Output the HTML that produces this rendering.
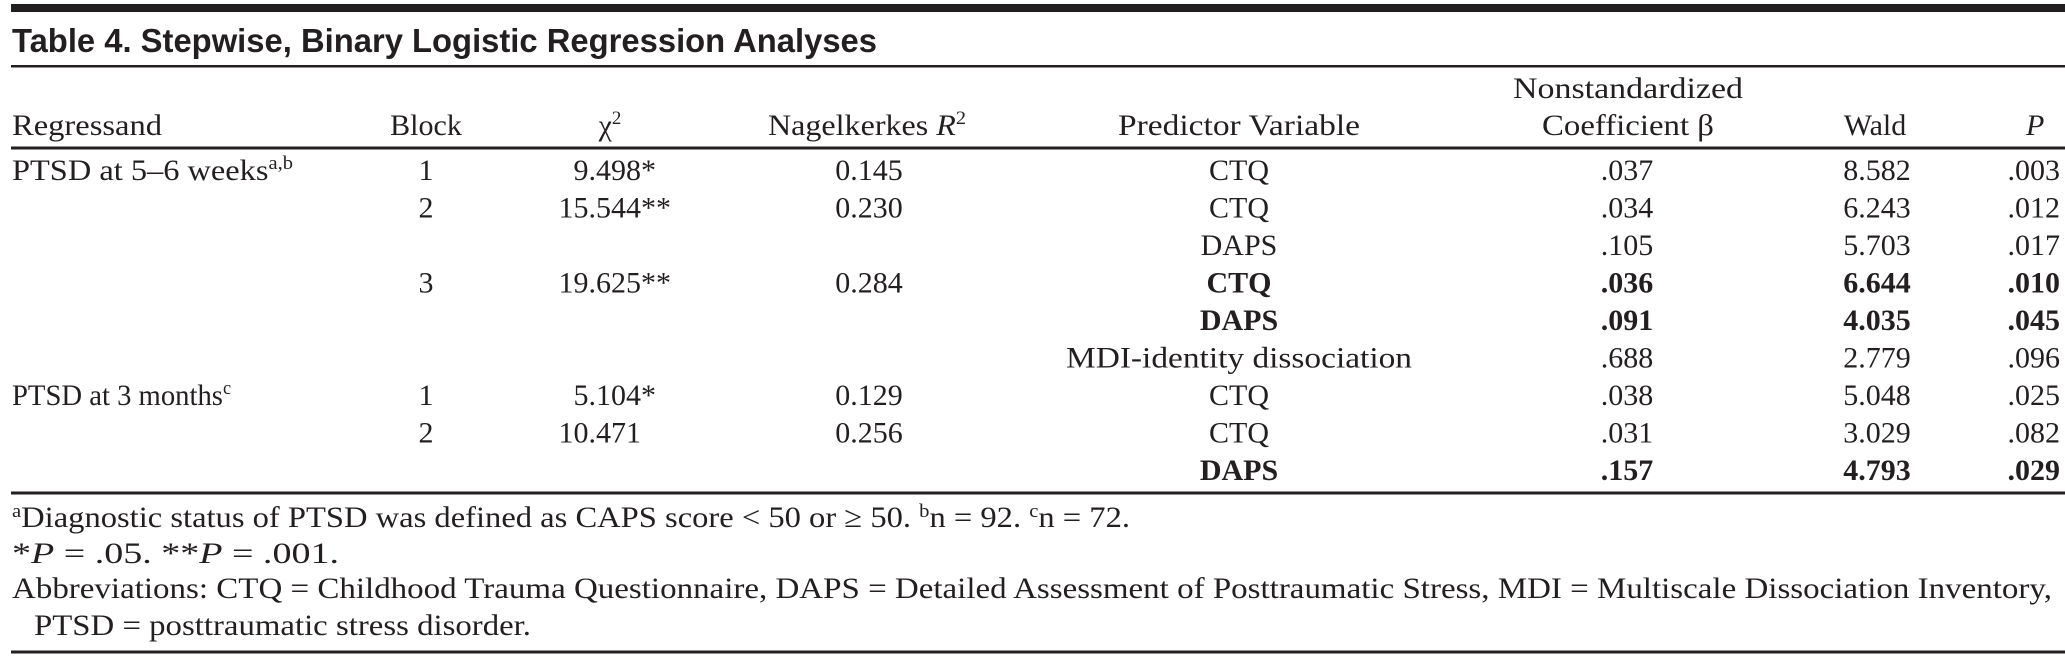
<!DOCTYPE html>
<html><head><meta charset="utf-8"><style>
html,body{margin:0;padding:0;background:#fff;}
svg{display:block;}
text{font-family:"Liberation Serif",serif;font-size:30px;fill:#231f20;}
.b{font-weight:bold;}
.c{text-anchor:middle;}
.e{text-anchor:end;}
</style></head><body>
<svg width="2065" height="657" viewBox="0 0 2065 657" xmlns="http://www.w3.org/2000/svg">
<rect x="11" y="4" width="2054" height="8" fill="#231f20"/>
<text x="12" y="52" style="font-family:'Liberation Sans',sans-serif;font-weight:bold;font-size:33px" textLength="865" lengthAdjust="spacingAndGlyphs">Table 4. Stepwise, Binary Logistic Regression Analyses</text>
<rect x="11" y="65" width="2054" height="2.5" fill="#231f20"/>
<!-- header -->
<text class="c" x="1628" y="98" textLength="230" lengthAdjust="spacingAndGlyphs">Nonstandardized</text>
<text x="12" y="135" textLength="150" lengthAdjust="spacingAndGlyphs">Regressand</text>
<text class="c" x="426" y="135">Block</text>
<text class="c" x="610" y="135">χ<tspan dy="-11" font-size="19">2</tspan></text>
<text class="c" x="867" y="135" textLength="198" lengthAdjust="spacingAndGlyphs">Nagelkerkes <tspan font-style="italic">R</tspan><tspan dy="-11" font-size="19">2</tspan></text>
<text class="c" x="1239" y="135" textLength="242" lengthAdjust="spacingAndGlyphs">Predictor Variable</text>
<text class="c" x="1628" y="135" textLength="172" lengthAdjust="spacingAndGlyphs">Coefficient β</text>
<text class="c" x="1875" y="135">Wald</text>
<text x="2026" y="135" font-style="italic">P</text>
<rect x="11" y="146.5" width="2054" height="3" fill="#231f20"/>
<!-- body -->
<text x="12" y="180" textLength="281" lengthAdjust="spacingAndGlyphs">PTSD at 5–6 weeks<tspan dy="-11" font-size="19">a,b</tspan></text>
<text x="12" y="405" textLength="219" lengthAdjust="spacingAndGlyphs">PTSD at 3 months<tspan dy="-11" font-size="19">c</tspan></text>
<g class="c">
<text class="c" x="426" y="180">1</text>
<text class="c" x="426" y="217.5">2</text>
<text class="c" x="426" y="292.5">3</text>
<text class="c" x="426" y="405">1</text>
<text class="c" x="426" y="442.5">2</text>
</g>
<text class="e" x="641" y="180">9.498</text><text x="641" y="180">*</text>
<text class="e" x="641" y="217.5">15.544</text><text x="641" y="217.5">**</text>
<text class="e" x="641" y="292.5">19.625</text><text x="641" y="292.5">**</text>
<text class="e" x="641" y="405">5.104</text><text x="641" y="405">*</text>
<text class="e" x="641" y="442.5">10.471</text>
<text class="c" x="869" y="180">0.145</text>
<text class="c" x="869" y="217.5">0.230</text>
<text class="c" x="869" y="292.5">0.284</text>
<text class="c" x="869" y="405">0.129</text>
<text class="c" x="869" y="442.5">0.256</text>
<!-- predictor / coef / wald / p -->
<text class="c" x="1239" y="180">CTQ</text><text class="c" x="1627" y="180">.037</text><text class="c" x="1877" y="180">8.582</text><text class="e" x="2060" y="180">.003</text>
<text class="c" x="1239" y="217.5">CTQ</text><text class="c" x="1627" y="217.5">.034</text><text class="c" x="1877" y="217.5">6.243</text><text class="e" x="2060" y="217.5">.012</text>
<text class="c" x="1239" y="255">DAPS</text><text class="c" x="1627" y="255">.105</text><text class="c" x="1877" y="255">5.703</text><text class="e" x="2060" y="255">.017</text>
<g class="b"><text class="c b" x="1239" y="292.5">CTQ</text><text class="c b" x="1627" y="292.5">.036</text><text class="c b" x="1877" y="292.5">6.644</text><text class="e b" x="2060" y="292.5">.010</text></g>
<g class="b"><text class="c b" x="1239" y="330">DAPS</text><text class="c b" x="1627" y="330">.091</text><text class="c b" x="1877" y="330">4.035</text><text class="e b" x="2060" y="330">.045</text></g>
<text class="c" x="1239" y="367.5" textLength="346" lengthAdjust="spacingAndGlyphs">MDI-identity dissociation</text><text class="c" x="1627" y="367.5">.688</text><text class="c" x="1877" y="367.5">2.779</text><text class="e" x="2060" y="367.5">.096</text>
<text class="c" x="1239" y="405">CTQ</text><text class="c" x="1627" y="405">.038</text><text class="c" x="1877" y="405">5.048</text><text class="e" x="2060" y="405">.025</text>
<text class="c" x="1239" y="442.5">CTQ</text><text class="c" x="1627" y="442.5">.031</text><text class="c" x="1877" y="442.5">3.029</text><text class="e" x="2060" y="442.5">.082</text>
<text class="c b" x="1239" y="480">DAPS</text><text class="c b" x="1627" y="480">.157</text><text class="c b" x="1877" y="480">4.793</text><text class="e b" x="2060" y="480">.029</text>
<rect x="11" y="491.5" width="2054" height="3" fill="#231f20"/>
<!-- footnotes -->
<text x="12" y="527" textLength="1118" lengthAdjust="spacingAndGlyphs"><tspan dy="-10" font-size="19">a</tspan><tspan dy="10">Diagnostic status of PTSD was defined as CAPS score &lt; 50 or ≥ 50.  </tspan><tspan dy="-10" font-size="19">b</tspan><tspan dy="10">n = 92.  </tspan><tspan dy="-10" font-size="19">c</tspan><tspan dy="10">n = 72.</tspan></text>
<text x="12" y="563" textLength="327" lengthAdjust="spacingAndGlyphs">*<tspan font-style="italic">P</tspan> = .05.  **<tspan font-style="italic">P</tspan> = .001.</text>
<text x="12" y="598" textLength="2040" lengthAdjust="spacingAndGlyphs">Abbreviations: CTQ = Childhood Trauma Questionnaire, DAPS = Detailed Assessment of Posttraumatic Stress, MDI = Multiscale Dissociation Inventory,</text>
<text x="34" y="635" textLength="497" lengthAdjust="spacingAndGlyphs">PTSD = posttraumatic stress disorder.</text>
<rect x="11" y="650.5" width="2054" height="3" fill="#231f20"/>
</svg>
</body></html>
